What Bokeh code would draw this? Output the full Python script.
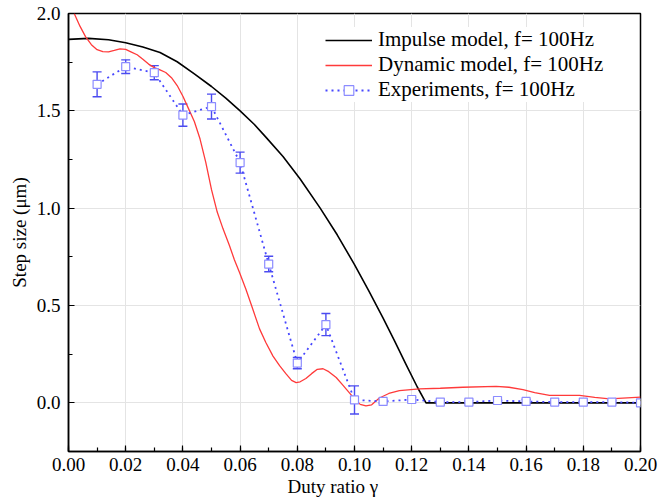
from bokeh.plotting import figure
from bokeh.models import (ColumnDataSource, Whisker, TeeHead, SingleIntervalTicker,
                          NumeralTickFormatter, Legend, LegendItem, Range1d, Title)
from bokeh.embed import file_html
from bokeh.resources import INLINE

# ---------------- data ----------------
impulse_x = [0.000, 0.007, 0.014, 0.020, 0.026, 0.032, 0.038, 0.044, 0.050, 0.055,
             0.060, 0.065, 0.069, 0.075, 0.081, 0.088, 0.094, 0.100, 0.105, 0.110,
             0.114, 0.118, 0.122, 0.125, 0.200]
impulse_y = [1.867, 1.872, 1.865, 1.850, 1.828, 1.800, 1.752, 1.690, 1.625, 1.565,
             1.500, 1.430, 1.365, 1.265, 1.150, 1.000, 0.862, 0.710, 0.575, 0.435,
             0.318, 0.198, 0.080, 0.000, 0.000]

dynamic_x = [0.000, 0.002, 0.004, 0.006, 0.008, 0.010, 0.012, 0.014, 0.016, 0.018,
             0.020, 0.022, 0.024, 0.026, 0.028, 0.030, 0.032, 0.034, 0.036, 0.038,
             0.040, 0.042, 0.044, 0.046, 0.048, 0.050, 0.052, 0.054, 0.0563, 0.058,
             0.0598, 0.062, 0.064, 0.0668, 0.069, 0.0715, 0.0738, 0.076, 0.078, 0.0796,
             0.081, 0.083, 0.085, 0.087, 0.089, 0.091, 0.0936, 0.096, 0.0983, 0.100,
             0.102, 0.104, 0.106, 0.1087, 0.112, 0.1157, 0.1227, 0.130, 0.1379, 0.1495,
             0.154, 0.1589, 0.163, 0.1682, 0.1787, 0.184, 0.1892, 0.200]
dynamic_y = [2.060, 2.000, 1.935, 1.880, 1.840, 1.814, 1.804, 1.803, 1.810, 1.818,
             1.816, 1.802, 1.788, 1.765, 1.740, 1.722, 1.710, 1.697, 1.670, 1.630,
             1.575, 1.510, 1.445, 1.355, 1.235, 1.095, 0.980, 0.895, 0.807, 0.735,
             0.670, 0.585, 0.500, 0.380, 0.310, 0.240, 0.191, 0.150, 0.115, 0.104,
             0.108, 0.125, 0.150, 0.172, 0.175, 0.160, 0.130, 0.090, 0.050, 0.020,
             -0.008, -0.016, -0.010, 0.025, 0.048, 0.063, 0.072, 0.075, 0.080, 0.085,
             0.080, 0.068, 0.052, 0.038, 0.038, 0.028, 0.020, 0.029]

exp_x = [0.01, 0.02, 0.03, 0.04, 0.05, 0.06, 0.07, 0.08, 0.09, 0.10,
         0.11, 0.12, 0.13, 0.14, 0.15, 0.16, 0.17, 0.18, 0.19, 0.20]
exp_y = [1.636, 1.727, 1.696, 1.478, 1.522, 1.234, 0.713, 0.204, 0.402, 0.015,
         0.007, 0.017, 0.004, 0.004, 0.012, 0.007, 0.004, 0.004, 0.004, 0.000]
exp_err = [0.064, 0.035, 0.036, 0.057, 0.064, 0.054, 0.040, 0.029, 0.057, 0.072,
           0.008, 0.012, 0.008, 0.008, 0.012, 0.010, 0.006, 0.006, 0.008, 0.006]

label_impulse = "Impulse model, f= 100Hz"
label_dynamic = "Dynamic model, f= 100Hz"
label_exp = "Experiments, f= 100Hz"
x_title = "Duty ratio \u03b3"
y_title = "Step size (\u03bcm)"

FONT = "Liberation Serif"

# ---------------- figure ----------------
p = figure(frame_width=572, frame_height=438,
           x_range=Range1d(0.0, 0.2), y_range=Range1d(-0.25, 2.0),
           output_backend="svg", toolbar_location=None,
           min_border_left=68, min_border_right=20, min_border_top=13, min_border_bottom=46,
           background_fill_color="white", border_fill_color="white")

p.outline_line_color = "black"
p.outline_line_width = 1.5
p.outline_line_alpha = 1.0

p.xaxis.ticker = SingleIntervalTicker(interval=0.02, num_minor_ticks=2)
p.yaxis.ticker = SingleIntervalTicker(interval=0.5, num_minor_ticks=2)
p.xaxis.formatter = NumeralTickFormatter(format="0.00")
p.yaxis.formatter = NumeralTickFormatter(format="0.0")

for ax in (p.xaxis, p.yaxis):
    ax.axis_line_color = "black"
    ax.axis_line_width = 1.5
    ax.major_tick_line_color = "black"
    ax.minor_tick_line_color = "black"
    ax.major_tick_line_width = 1.2
    ax.minor_tick_line_width = 1.2
    ax.major_tick_in = 6
    ax.major_tick_out = 0
    ax.minor_tick_in = 4
    ax.minor_tick_out = 0
    ax.major_label_text_font = FONT
    ax.major_label_text_font_size = "19px"
    ax.major_label_text_color = "black"
    ax.axis_label_text_font = FONT
    ax.axis_label_text_font_size = "19px"
    ax.axis_label_text_font_style = "normal"
    ax.axis_label_text_color = "black"

p.xaxis.major_label_standoff = 6
p.yaxis.major_label_standoff = 8
p.yaxis.axis_label_standoff = 4
p.yaxis.axis_label = y_title

# x-axis title, placed slightly left of centre as in the reference
xt = Title(text=x_title, align="left", offset=219, standoff=0,
           text_font=FONT, text_font_size="19px", text_font_style="normal",
           text_color="black")
p.add_layout(xt, "below")

p.xgrid.grid_line_color = "#e4e4e4"
p.ygrid.grid_line_color = "#e4e4e4"
p.xgrid.grid_line_width = 1
p.ygrid.grid_line_width = 1

# ---------------- series ----------------
r_imp = p.line(impulse_x, impulse_y, line_color="black", line_width=1.6)
r_dyn = p.line(dynamic_x, dynamic_y, line_color="#ff3a3a", line_width=1.3)

src = ColumnDataSource(dict(
    x=exp_x, y=exp_y,
    upper=[a + b for a, b in zip(exp_y, exp_err)],
    lower=[a - b for a, b in zip(exp_y, exp_err)],
))
r_exp_line = p.line("x", "y", source=src, line_color="#4646ff", line_width=1.8,
                    line_dash="2 4")
whisk = Whisker(source=src, base="x", upper="upper", lower="lower",
                line_color="#4b4bf0", line_width=1.4,
                upper_head=TeeHead(size=9, line_color="#4b4bf0", line_width=1.4),
                lower_head=TeeHead(size=9, line_color="#4b4bf0", line_width=1.4))
p.add_layout(whisk)
r_exp_pts = p.scatter("x", "y", source=src, marker="square", size=8,
                      fill_color="white", line_color="#8c8cff", line_width=1.2)

legend = Legend(items=[
    LegendItem(label=label_impulse, renderers=[r_imp]),
    LegendItem(label=label_dynamic, renderers=[r_dyn]),
    LegendItem(label=label_exp, renderers=[r_exp_line, r_exp_pts]),
], location=(257, 349))
legend.label_text_font = FONT
legend.label_text_font_size = "21px"
legend.label_text_color = "black"
legend.glyph_width = 47
legend.glyph_height = 24
legend.label_height = 24
legend.label_standoff = 6
legend.spacing = 0
legend.padding = 5
legend.margin = 0
legend.border_line_color = None
legend.background_fill_color = "white"
legend.background_fill_alpha = 1.0
p.add_layout(legend)

open("out.html", "w").write(file_html(p, INLINE))
